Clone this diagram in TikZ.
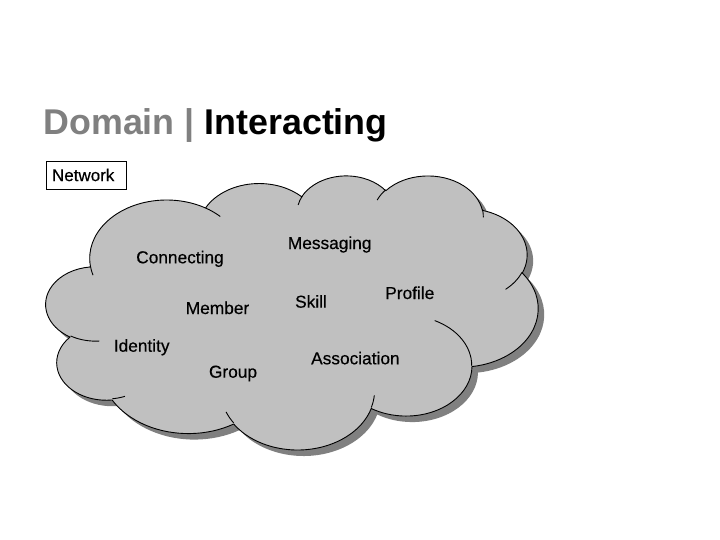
\documentclass[tikz,border=0pt]{standalone}
\usepackage{fontspec}
\setmainfont{Liberation Sans}
\newfontfamily\lblfont{Liberation Sans}[BoldFont={Liberation Sans}, BoldFeatures={FakeBold=0.4}]
\definecolor{titlegray}{HTML}{808080}
\definecolor{cloudfill}{HTML}{C0C0C0}
\definecolor{cloudshadow}{HTML}{808080}
% arc of the Office cloud: name, wR, hR, start angle, sweep (visual angles, degrees)
\newcommand\mkcld[5]{%
  \pgfmathsetmacro\cldtmpA{atan2((#2)*sin(#4),(#3)*cos(#4))}%
  \pgfmathsetmacro\cldtmpB{atan2((#2)*sin((#4)+(#5)),(#3)*cos((#4)+(#5)))}%
  \pgfmathsetmacro\cldtmpD{mod(\cldtmpB-\cldtmpA+720,360)}%
  \edef\cldtmp{\noexpand\tikzset{#1/.style={x radius=#2, y radius=#3, start angle=\cldtmpA, delta angle=\cldtmpD}}}%
  \cldtmp}
\mkcld{cldA}{67.53}{91.90}{-190.48748}{123.78053}
\mkcld{cldB}{53.33}{72.67}{-144.10238}{89.94523}
\mkcld{cldC}{43.65}{59.45}{-145.80792}{99.72302}
\mkcld{cldD}{48.57}{65.95}{-130.98607}{117.24173}
\mkcld{cldE}{53.33}{72.73}{-78.70888}{109.02692}
\mkcld{cldF}{67.75}{92.20}{-46.26725}{130.26900}
\mkcld{cldG}{57.85}{78.67}{0.62502}{114.03333}
\mkcld{cldH}{67.52}{92.15}{22.45160}{115.17255}
\mkcld{cldI}{77.20}{105.43}{66.24263}{75.71102}
\mkcld{cldJ}{43.60}{59.18}{-274.94208}{146.73557}
\mkcld{cldK}{43.45}{59.45}{-246.82850}{152.51885}
\mkcld{inA}{43.45}{59.45}{86.74200}{26.42950}
\mkcld{inB}{43.60}{59.18}{73.61047}{11.44747}
\mkcld{inC}{67.52}{92.15}{137.62415}{14.08110}
\mkcld{inD}{67.52}{92.15}{6.45327}{15.99835}
\mkcld{inE}{57.85}{78.67}{-70.29235}{70.91737}
\mkcld{inF}{53.33}{72.73}{30.31803}{27.75150}
\mkcld{inG}{48.57}{65.95}{-13.74433}{14.85890}
\mkcld{inH}{48.57}{65.95}{-149.18145}{18.19537}
\mkcld{inI}{43.65}{59.45}{-163.49427}{17.68635}
\mkcld{inJ}{67.53}{91.90}{-66.70695}{12.31935}
\mkcld{inK}{67.53}{91.90}{157.65435}{11.85817}
\newcommand\cldoutline{(39.00,143.70) arc[cldA] arc[cldB] arc[cldC] arc[cldD] arc[cldE] arc[cldF] arc[cldG] arc[cldH] arc[cldI] arc[cldJ] arc[cldK] -- cycle}
\tikzset{
  cloudunits/.style={x=1.13889pt, y=-0.63426pt},
  lbl/.style={anchor=base, inner sep=0pt, font=\lblfont\bfseries\fontsize{17.3}{20}\selectfont},
  netbox/.style={draw=black, line width=0.9pt, anchor=center, minimum width=80pt, minimum height=28pt,
    inner xsep=6pt, inner ysep=0pt, text width=68pt, align=left, font=\lblfont\bfseries\fontsize{17}{20}\selectfont},
}
\begin{document}
\begin{tikzpicture}[x=1pt, y=-1pt]
\useasboundingbox (0,0) rectangle (720,540);
\fill[white] (0,0) rectangle (720,540);
% shadow
\begin{scope}[shift={(52,181)}, cloudunits]
  \fill[cloudshadow] \cldoutline;
\end{scope}
% cloud
\begin{scope}[shift={(46,175)}, cloudunits]
  \filldraw[fill=cloudfill, draw=black, line width=0.9pt, line join=round] \cldoutline;
  \draw[black, line width=0.9pt]
    (46.93,261.77) arc[inA]
    (69.28,348.99) arc[inB]
    (164.78,390.90) arc[inC]
    (288.27,347.51) arc[inD]
    (341.29,229.54) arc[inE]
    (417.98,153.54) arc[inF]
    (383.24,54.26) arc[inG]
    (290.78,39.52) arc[inH]
    (221.41,47.20) arc[inI]
    (140.00,51.92) arc[inJ]
    (41.27,157.89) arc[inK];
\end{scope}
% title
\node[anchor=base west, inner sep=0pt, font=\fontsize{35.8}{42}\selectfont\bfseries] (title) at (43.3,135)
  {\textcolor{titlegray}{Domain |} Interacting};
\node[netbox] (network) at (86,175) {Network};
% labels
\node[lbl] (connecting) at (180,263.3) {Connecting};
\node[lbl] (messaging) at (329.7,249) {Messaging};
\node[lbl] (member) at (217.5,314) {Member};
\node[lbl] (skill) at (311,307.7) {Skill};
\node[lbl] (profile) at (409.8,299) {Profile};
\node[lbl] (identity) at (141.7,351.7) {Identity};
\node[lbl] (group) at (233,377.7) {Group};
\node[lbl] (association) at (355.4,364.3) {Association};
\end{tikzpicture}
\end{document}
